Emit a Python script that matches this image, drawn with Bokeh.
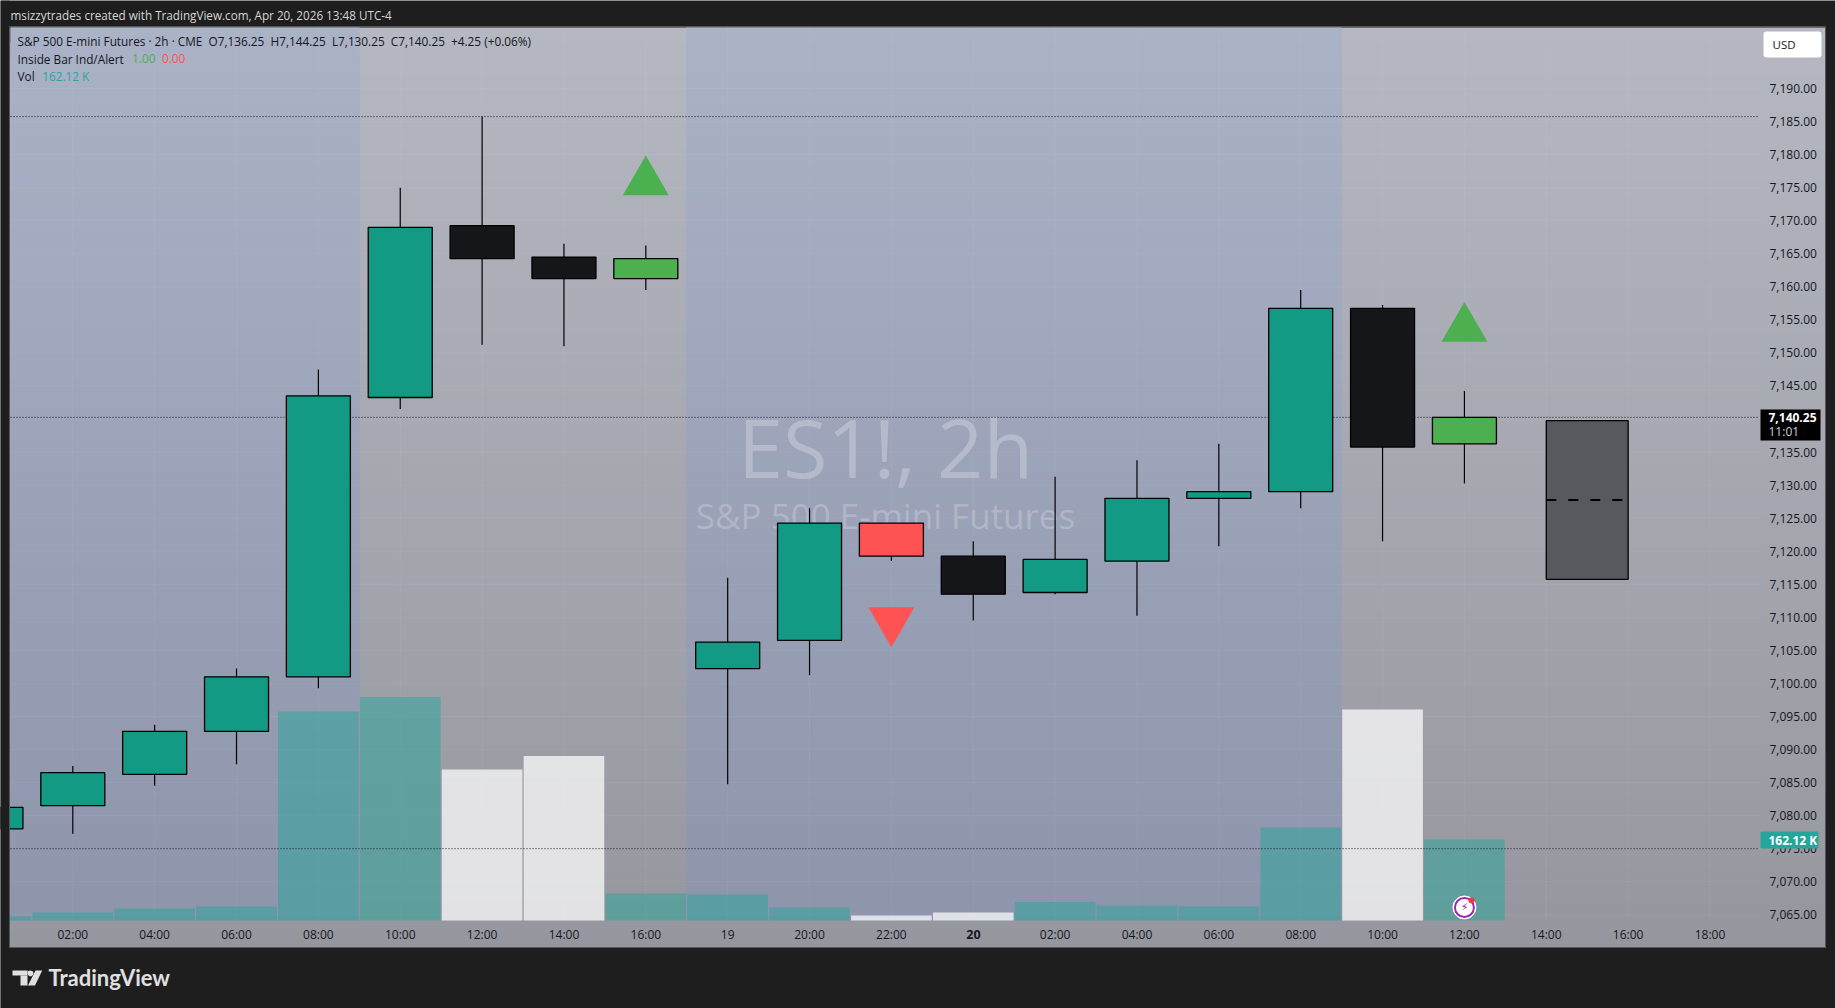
from bokeh.plotting import figure
from bokeh.models import (Range1d, FixedTicker, NumeralTickFormatter, BoxAnnotation,
                          Label, PolyAnnotation, ColumnDataSource)
from bokeh.embed import file_html
from bokeh.resources import INLINE

# ---------- data ----------
bar_index = list(range(-1, 18))
opens  = [7078.00, 7081.50, 7086.25, 7092.75, 7101.00, 7143.25, 7169.25, 7164.50, 7161.25, 7102.25, 7106.50, 7124.25, 7119.25, 7113.75, 7118.50, 7128.00, 7129.00, 7156.75, 7136.25]
highs  = [7081.25, 7087.50, 7093.75, 7102.25, 7147.50, 7175.00, 7185.75, 7166.50, 7166.25, 7116.00, 7126.50, 7124.25, 7121.50, 7131.25, 7133.75, 7136.25, 7159.50, 7157.25, 7144.25]
lows   = [7078.00, 7077.25, 7084.50, 7087.75, 7099.25, 7141.50, 7151.25, 7151.00, 7159.50, 7084.75, 7101.25, 7118.50, 7109.50, 7113.50, 7110.25, 7120.75, 7126.50, 7121.50, 7130.25]
closes = [7081.25, 7086.50, 7092.75, 7101.00, 7143.50, 7169.00, 7164.25, 7161.25, 7164.25, 7106.25, 7124.25, 7119.25, 7113.50, 7118.75, 7128.00, 7129.00, 7156.75, 7135.75, 7140.25]
candle_colors = ["#139a85"]*6 + ["#15161a", "#15161a", "#4caf50", "#139a85", "#139a85", "#ff5252", "#15161a"] + ["#139a85"]*4 + ["#15161a", "#4caf50"]
volumes = [8, 16, 24, 28, 418, 447, 302, 329, 54, 52, 26, 10, 16, 37, 30, 28, 186, 422, 162.12]
vol_is_white = [False]*6 + [True, True] + [False]*3 + [True, True] + [False]*4 + [True, False]

tick_index = list(range(0, 21))
tick_labels = ["02:00", "04:00", "06:00", "08:00", "10:00", "12:00", "14:00", "16:00", "19", "20:00", "22:00", "",
               "02:00", "04:00", "06:00", "08:00", "10:00", "12:00", "14:00", "16:00", "18:00"]
price_ticks = list(range(7065, 7195, 5))

up_signal_index = [7, 17]
up_signal_price = [7175.85, 7153.70]
down_signal_index = [10]
down_signal_price = [7109.50]

price_lines = [7185.75, 7140.25, 7075.00]

forecast_left, forecast_right = [18], [19]
forecast_top, forecast_bottom = [7139.75], [7115.75]
forecast_mid = [7127.75]

# ---------- geometry ----------
W, H = 1835, 1008
FL, FR, FT, FB = 10, 1760, 27, 920      # chart pane in page pixels
BOXR, BOXB = 1825, 947
PX = 81.86
PY = 6.61
X0 = 72.3
x_of = lambda px: (px - X0) / PX
p_of = lambda py: 7190 - (py - 88) / PY

FONT = "Open Sans"

p = figure(width=W, height=H, output_backend="svg", toolbar_location=None,
           x_range=Range1d(x_of(0), x_of(W)), y_range=Range1d(p_of(H), p_of(0)),
           y_axis_location="right", min_border_left=0, min_border_right=0,
           min_border_top=0, min_border_bottom=0,
           background_fill_color="#1e1e1e", border_fill_color="#1e1e1e", outline_line_color=None)
p.extra_y_ranges = {"vol": Range1d((FB - H) * 2.0, FB * 2.0)}


def box(l, r, t, b, color=None, level="image", line=None, radius=None):
    bx = BoxAnnotation(left=l, right=r, top=t, bottom=b,
                       left_units="canvas", right_units="canvas", top_units="canvas", bottom_units="canvas",
                       fill_color=color, fill_alpha=1 if color else 0,
                       line_color=line, line_alpha=1 if line else 0, line_width=1, level=level,
                       editable=False)
    if radius:
        bx.border_radius = radius
    p.add_layout(bx)
    return bx


def txt(x, y, s, color="#131722", size=12, align="left", style="normal", font=FONT, level="annotation", alpha=1.0):
    lb = Label(x=x, y=y, x_units="canvas", y_units="canvas", text=s, text_color=color, text_alpha=alpha,
               text_font_size=f"{size}px", text_align=align, text_baseline="middle",
               text_font_style=style, text_font=font, level=level)
    p.add_layout(lb)
    return lb


def lerp(a, b, t):
    return "#%02x%02x%02x" % tuple(round(a[i] + (b[i] - a[i]) * t) for i in range(3))


GRAY_T, GRAY_B = (181, 183, 193), (150, 151, 158)
BLUE_T, BLUE_B = (170, 178, 198), (141, 148, 171)
STEPS = 60
for i in range(STEPS):
    t = i / (STEPS - 1)
    y = FT + (BOXB - FT) * i / STEPS
    box(FL, BOXR, y, BOXB, lerp(GRAY_T, GRAY_B, t))
for l, r in [(FL, 359), (686, 1341)]:
    for i in range(STEPS):
        t = i / (STEPS - 1)
        y = FT + (BOXB - FT) * i / STEPS
        if y < FB:
            box(l, r, y, FB, lerp(BLUE_T, BLUE_B, t))

# axes, fixed on the pane's edges
p.xaxis.ticker = FixedTicker(ticks=tick_index)
p.xaxis.major_label_overrides = {i: s for i, s in zip(tick_index, tick_labels)}
p.xaxis.fixed_location = p_of(FB - 7)
p.yaxis.ticker = FixedTicker(ticks=price_ticks)
p.yaxis.formatter = NumeralTickFormatter(format="0,0.00")
p.yaxis.fixed_location = x_of(FR)
for ax in (p.xaxis[0], p.yaxis[0]):
    ax.axis_line_color = None
    ax.major_tick_line_color = None
    ax.minor_tick_line_color = None
    ax.major_label_text_font = FONT
    ax.major_label_text_font_size = "12px"
    ax.major_label_text_color = "#131722"
p.xaxis.major_label_standoff = 6
p.yaxis.major_label_standoff = 3
p.grid.visible = False
p.segment(x0=tick_index, x1=tick_index, y0=[p_of(FB)] * len(tick_index), y1=[p_of(FT)] * len(tick_index),
          line_color="#ffffff", line_alpha=0.05, line_width=1, level="underlay")
p.segment(x0=[x_of(FL)] * len(price_ticks), x1=[x_of(FR)] * len(price_ticks), y0=price_ticks, y1=price_ticks,
          line_color="#ffffff", line_alpha=0.05, line_width=1, level="underlay")

# watermark
txt(885, 446, "ES1!, 2h", "#ffffff", 81, "center", level="underlay", alpha=0.25)
txt(885, 515, "S&P 500 E-mini Futures", "#ffffff", 35, "center", level="underlay", alpha=0.22)

# volume
vol = ColumnDataSource(dict(x=bar_index, top=volumes,
                            c=["#ffffff" if w else "#26a69a" for w in vol_is_white],
                            a=[0.72 if w else 0.5 for w in vol_is_white]))
p.vbar(x="x", top="top", bottom=0, width=0.985, source=vol, fill_color="c", fill_alpha="a",
       line_color=None, y_range_name="vol")

# price lines
p.segment(x0=[x_of(FL)] * 3, x1=[x_of(1757)] * 3, y0=price_lines, y1=price_lines, line_color="#131722",
          line_dash="1 2", line_width=1)

# candles
src = ColumnDataSource(dict(x=bar_index, o=opens, h=highs, l=lows, cl=closes, c=candle_colors,
                            t=[max(a, b) for a, b in zip(opens, closes)],
                            b=[min(a, b) for a, b in zip(opens, closes)]))
p.segment(x0="x", x1="x", y0="l", y1="h", source=src, line_color="#000000", line_width=1.2)
p.vbar(x="x", top="t", bottom="b", width=64 / PX, source=src, fill_color="c", line_color="#000000", line_width=1.3)

# forecast box
p.quad(left=forecast_left, right=forecast_right, top=forecast_top, bottom=forecast_bottom,
       fill_color="#58595e", line_color="#000000", line_width=1.3)
p.segment(x0=forecast_left, x1=forecast_right, y0=forecast_mid, y1=forecast_mid, line_color="#000000",
          line_width=2, line_dash="10 12")

# signals
p.scatter(up_signal_index, up_signal_price, marker="triangle", size=46, fill_color="#4caf50", line_color=None)
p.scatter(down_signal_index, down_signal_price, marker="inverted_triangle", size=46, fill_color="#ff5252", line_color=None)

# alert icon
icon_x = [17]
p.scatter(icon_x, [p_of(907)], marker="circle", size=23, fill_color="#ffffff", line_color="#ffffff", line_width=1)
p.scatter(icon_x, [p_of(907)], marker="circle", size=19, fill_color="#ffffff", line_color="#9c27b0", line_width=2)
p.scatter([x_of(1471)], [p_of(900)], marker="circle", size=6, fill_color="#f23645", line_color=None)

# dark page margin over anything that runs past the pane, then the pane's border
box(0, FL - 1, 0, H, "#1e1e1e", level="annotation")
box(FL - 1, BOXR, FT - 1, BOXB, None, level="annotation", line="#55565a")

# header, legend
NB = "\u00a0\u00a0"
txt(10, 14, "msizzytrades created with TradingView.com, Apr 20, 2026 13:48 UTC-4", "#d6d6d6", 11.7)
txt(17, 40.5, f"S&P 500 E-mini Futures · 2h · CME{NB}O7,136.25{NB}H7,144.25{NB}L7,130.25{NB}C7,140.25{NB}+4.25 (+0.06%)", size=11.8)
txt(17, 58, "Inside Bar Ind/Alert", size=11.8)
txt(131.6, 58, "1.00", "#4caf50", 11.8)
txt(161.5, 58, "0.00", "#ff5252", 11.8)
txt(17, 75, "Vol", size=11.8)
txt(41.7, 75, "162.12 K", "#26a69a", 11.8)
txt(1464, 907, "⚡", "#9c27b0", 11, "center", font="DejaVu Sans")

# bold day label
txt(973, 934, "20", size=12.5, align="center", style="bold")

# USD button + price tags
box(1763, 1821, 31, 57, "#ffffff", level="annotation", radius=3)
txt(1772, 44, "USD", size=11.5)
box(1760, 1820, 409, 440, "#000000", level="annotation")
txt(1768, 417, "7,140.25", "#ffffff", 12, style="bold")
txt(1768, 431, "11:01", "#d0d0d0", 12)
box(1760, 1818, 831, 848, "#26a69a", level="annotation", radius=1)
txt(1768, 840, "162.12 K", "#ffffff", 12, style="bold")

# logo
box(12, 27, 970, 975, "#e0e0e0", level="annotation")
box(20, 27, 975, 985, "#e0e0e0", level="annotation")
p.add_layout(PolyAnnotation(xs=[35, 41.7, 34.5, 27.5], ys=[970, 970, 985, 985],
                            xs_units="canvas", ys_units="canvas", fill_color="#e0e0e0", fill_alpha=1,
                            line_color=None))
p.add_layout(PolyAnnotation(xs=[27.5, 30, 32.5, 33, 32, 30, 28, 27],
                            ys=[970.5, 970, 971, 973, 975, 976, 975, 973],
                            xs_units="canvas", ys_units="canvas", fill_color="#e0e0e0", fill_alpha=1,
                            line_color=None))
txt(48, 977, "TradingView", "#e0e0e0", 22, style="bold", font="Lato")

open("out.html", "w").write(file_html(p, INLINE))
